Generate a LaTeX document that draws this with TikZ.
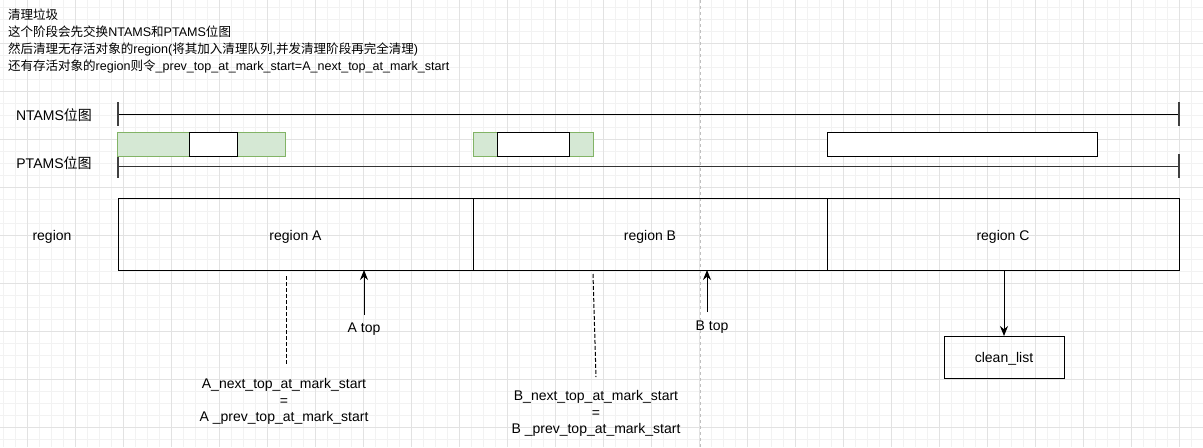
\documentclass[tikz,border=0pt]{standalone}
\usepackage{fontspec}
\setmainfont{Liberation Sans}
\newfontfamily\cjk{Noto Sans CJK SC}
\usetikzlibrary{arrows.meta}
\definecolor{gridminor}{HTML}{F2F2F2}
\definecolor{gridmajor}{HTML}{E2E2E2}
\definecolor{gfill}{HTML}{D5E8D4}
\definecolor{gline}{HTML}{82B366}
\definecolor{pagebrk}{HTML}{C0C0C0}
\begin{document}
\begin{tikzpicture}[x=0.75pt,y=-0.75pt,
  every node/.style={font=\fontsize{10.5}{12.4}\selectfont, inner sep=0pt, outer sep=0pt},
  titletext/.style={anchor=base west, font=\fontsize{9.4}{12}\selectfont},
  ln/.style={line width=0.75pt},
  tick/.style={line width=1.1pt, draw=black!75},
  regionbox/.style={draw, line width=0.75pt, minimum height=54pt, text height=9.8pt, text depth=0pt},
  greenbox/.style={draw=gline, fill=gfill, line width=0.75pt, minimum height=18pt},
  whitebox/.style={draw=black, fill=white, line width=0.75pt, minimum height=18pt},
  arr/.style={line width=0.75pt, -{Stealth[length=7.5pt,width=6pt]}},
  dashln/.style={line width=0.75pt, dash pattern=on 3pt off 1.5pt}]
\useasboundingbox (0,0) rectangle (1203,447);
\fill[white] (0,0) rectangle (1203,447);
% grid
\foreach \x in {3,15,...,1203} \draw[gridminor, line width=0.75pt] (\x,0) -- (\x,447);
\foreach \y in {7,19,...,447} \draw[gridminor, line width=0.75pt] (0,\y) -- (1203,\y);
\foreach \x in {27,75,...,1203} \draw[gridmajor, line width=0.75pt] (\x,0) -- (\x,447);
\foreach \y in {43,91,...,447} \draw[gridmajor, line width=0.75pt] (0,\y) -- (1203,\y);
% page break
\draw[pagebrk, line width=0.75pt, dash pattern=on 2.25pt off 2.25pt] (700,0) -- (700,447);

% title
\node[titletext] (t1) at (8,19) {{\cjk 清理垃圾}};
\node[titletext] (t2) at (8,36.3) {{\cjk 这个阶段会先交换}NTAMS{\cjk 和}PTAMS{\cjk 位图}};
\node[titletext] (t3) at (8,53.5) {{\cjk 然后清理无存活对象的}region({\cjk 将其加入清理队列},{\cjk 并发清理阶段再完全清理})};
\node[titletext] (t4) at (8,70.7) {{\cjk 还有存活对象的}region{\cjk 则令}\_prev\_top\_at\_mark\_start=A\_next\_top\_at\_mark\_start};

% bitmap labels
\node[anchor=base] (ntamslbl) at (54,120) {NTAMS{\cjk 位图}};
\node[anchor=base] (ptamslbl) at (54,168.5) {PTAMS{\cjk 位图}};
\node[anchor=base] (regionlbl) at (52,240.5) {region};

% NTAMS line
\coordinate (n0) at (118,114);
\coordinate (n1) at (1179,114);
\draw[ln] (n0) -- (n1);
\draw[tick] (118,102) -- (118,126);
\draw[tick] (1179,102) -- (1179,126);
% PTAMS line
\coordinate (p0) at (118,166);
\coordinate (p1) at (1179,166);
\draw[ln, draw=black!80] (p0) -- (p1);
\draw[tick] (118,154) -- (118,178);
\draw[tick] (1179,154) -- (1179,178);

% bitmap boxes
\node[greenbox, minimum width=126pt] (g1) at (201,144) {};
\node[whitebox, minimum width=36pt] (w1) at (213,144) {};
\node[greenbox, minimum width=90pt] (g2) at (533,144) {};
\node[whitebox, minimum width=54pt] (w2) at (533,144) {};
\node[whitebox, minimum width=202.5pt] (w3) at (962,144) {};

% regions
\node[regionbox, minimum width=266.25pt] (regA) at (295.5,234) {region A};
\node[regionbox, minimum width=265.5pt] (regB) at (650,234) {region B};
\node[regionbox, minimum width=264pt] (regC) at (1003,234) {region C};

% A
\coordinate (da1) at (286,276);
\coordinate (da2) at (286,366);
\draw[dashln] (da1) -- (da2);
\node[align=center] (atxt) at (284,401.5) {A\_next\_top\_at\_mark\_start\\=\\A \_prev\_top\_at\_mark\_start};
\coordinate (abase) at (364,315);
\draw[arr] (abase) -- (abase |- regA.south);
\node[anchor=base] (atop) at (364,332) {A top};

% B
\coordinate (db1) at (593,274);
\coordinate (db2) at (596,377);
\draw[dashln] (db1) -- (db2);
\node[align=center] (btxt) at (596,413.5) {B\_next\_top\_at\_mark\_start\\=\\B \_prev\_top\_at\_mark\_start};
\coordinate (bbase) at (707,312);
\draw[arr] (bbase) -- (bbase |- regB.south);
\node[anchor=base] (btop) at (712,330) {B top};

% C
\node[draw, line width=0.75pt, minimum width=90pt, minimum height=31.5pt, text height=7.5pt, text depth=0pt] (cl) at (1004,357) {clean\_list};
\draw[arr] (cl.north |- regC.south) -- (cl.north);
\end{tikzpicture}
\end{document}
